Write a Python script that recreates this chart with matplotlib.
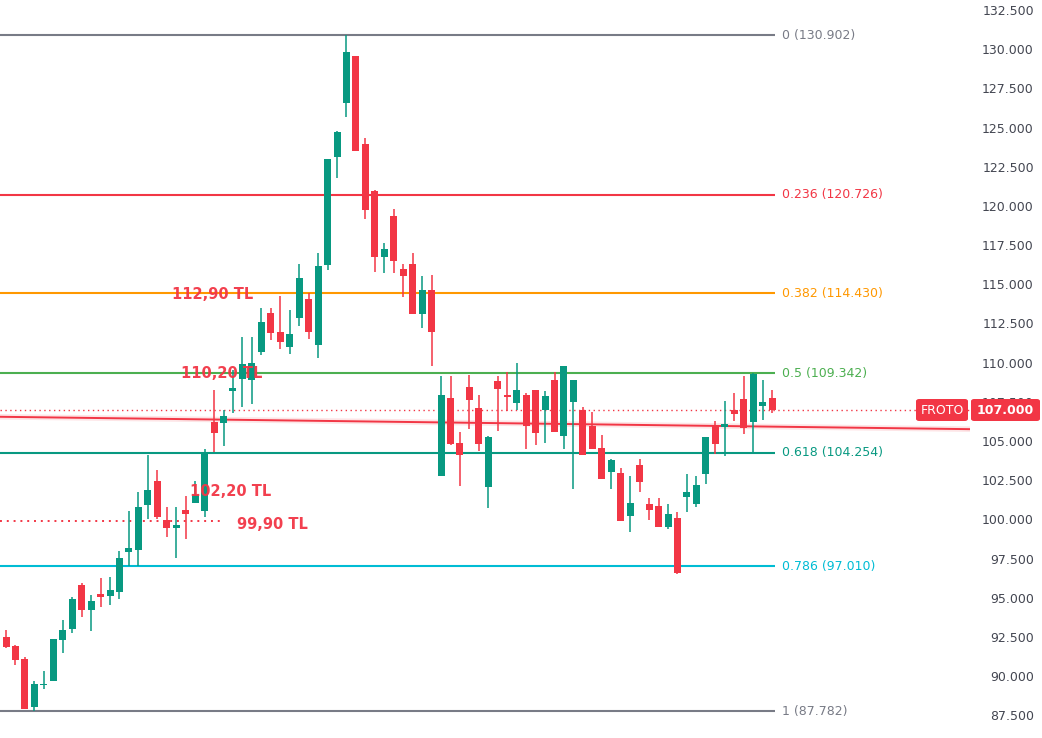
import matplotlib
matplotlib.use('Agg')
import matplotlib.pyplot as plt
from matplotlib.patches import FancyBboxPatch
import numpy as np

# ---- Candle data (daily OHLC, FROTO) ----
opens = [91.03, 92.50, 91.93, 91.10, 88.06, 89.44, 89.71, 92.31, 93.01, 95.82,
         94.22, 95.26, 95.12, 95.37, 97.94, 98.07, 100.92, 102.45, 99.97, 99.47,
         100.60, 101.07, 100.56, 106.22, 106.17, 108.21, 108.98, 108.90, 110.68, 113.17,
         111.96, 111.02, 112.85, 114.06, 111.15, 116.25, 123.14, 126.58, 129.56, 123.95,
         120.93, 116.76, 119.36, 115.98, 116.29, 113.12, 114.64, 102.79, 107.75, 104.88,
         108.45, 107.11, 102.09, 108.83, 107.94, 107.45, 107.94, 108.26, 107.00, 108.90,
         105.34, 107.51, 106.98, 105.96, 104.56, 103.05, 102.96, 100.24, 103.47, 100.98,
         100.86, 99.54, 100.09, 101.45, 101.01, 102.92, 105.96, 105.92, 106.98, 107.68,
         106.23, 107.25, 107.75]
highs = [92.95, 92.95, 92.00, 91.23, 89.69, 90.33, 92.40, 93.59, 95.05, 95.93,
         95.18, 96.27, 96.35, 97.99, 100.56, 101.75, 104.11, 103.15, 100.79, 100.79,
         101.49, 102.45, 104.47, 108.26, 106.98, 109.53, 111.64, 111.64, 113.49, 113.49,
         114.25, 113.36, 116.29, 114.44, 116.99, 123.00, 124.75, 130.902, 129.56, 124.33,
         121.01, 117.63, 119.80, 116.29, 116.99, 115.53, 115.59, 109.15, 109.15, 105.58,
         109.21, 107.94, 105.32, 109.15, 109.40, 110.00, 108.07, 108.26, 108.19, 109.40,
         109.79, 108.90, 107.17, 106.85, 105.39, 103.85, 103.28, 102.77, 103.85, 101.37,
         101.37, 100.98, 100.48, 102.90, 102.77, 105.26, 106.28, 107.55, 108.07, 109.15,
         109.34, 108.90, 108.26]
lows = [90.91, 91.82, 90.72, 87.93, 87.782, 89.20, 89.68, 91.50, 92.78, 93.80,
        92.90, 94.43, 94.54, 94.95, 97.05, 97.05, 100.03, 100.03, 98.90, 97.56,
        98.77, 101.05, 100.16, 104.30, 104.69, 106.79, 107.19, 107.36, 110.49, 111.44,
        110.89, 110.55, 112.36, 111.51, 110.32, 115.91, 121.80, 125.67, 123.52, 119.17,
        115.80, 115.74, 115.74, 114.21, 113.12, 112.23, 109.81, 102.79, 104.75, 102.15,
        105.79, 104.38, 100.75, 105.66, 106.94, 107.00, 104.51, 104.77, 104.89, 105.60,
        104.51, 101.96, 104.13, 104.51, 102.60, 101.96, 99.92, 99.22, 101.77, 99.98,
        99.54, 99.41, 96.54, 100.49, 100.81, 102.28, 104.19, 104.07, 106.30, 105.47,
        104.32, 106.36, 106.81]
closes = [92.57, 91.88, 91.05, 87.93, 89.50, 89.52, 92.37, 92.95, 94.93, 94.22,
          94.80, 95.07, 95.50, 97.54, 98.19, 100.79, 101.88, 100.16, 99.47, 99.64,
          100.37, 101.56, 104.22, 105.53, 106.60, 108.38, 109.92, 110.00, 112.60, 111.89,
          111.34, 111.83, 115.40, 111.96, 116.17, 122.99, 124.71, 129.82, 123.52, 119.76,
          116.76, 117.25, 116.50, 115.55, 113.12, 114.64, 111.98, 107.94, 104.81, 104.13,
          107.64, 104.83, 105.26, 108.34, 107.83, 108.26, 105.98, 105.53, 107.87, 105.60,
          109.79, 108.90, 104.13, 104.51, 102.60, 103.79, 99.92, 101.05, 102.41, 100.62,
          99.54, 100.35, 96.60, 101.75, 102.20, 105.26, 104.83, 106.09, 106.74, 105.85,
          109.28, 107.49, 107.00]

# ---- Fibonacci retracement levels ----
fib_values = [130.902, 120.726, 114.430, 109.342, 104.254, 97.010, 87.782]
fib_labels = ["0 (130.902)", "0.236 (120.726)", "0.382 (114.430)", "0.5 (109.342)",
              "0.618 (104.254)", "0.786 (97.010)", "1 (87.782)"]
fib_colors = ["#787b86", "#f23645", "#ff9800", "#4caf50", "#089981", "#00bcd4", "#787b86"]

# ---- Other drawings ----
trend_values = [106.55, 105.76]
last_price = 107.000
dotted_level = 99.90
annotations = ["112,90 TL", "110,20 TL", "102,20 TL", "99,90 TL"]
annotation_prices = [114.38, 109.34, 101.81, 99.71]
annotation_x = [18.55, 19.5, 20.46, 25.43]

ticks = [87.5, 90.0, 92.5, 95.0, 97.5, 100.0, 102.5, 105.0, 107.5, 110.0,
         112.5, 115.0, 117.5, 120.0, 122.5, 125.0, 127.5, 130.0, 132.5]
tick_labels = ["87.500", "90.000", "92.500", "95.000", "97.500", "100.000", "102.500",
               "105.000", "107.500", "110.000", "112.500", "115.000", "117.500",
               "120.000", "122.500", "125.000", "127.500", "130.000", "132.500"]

GREEN = "#089981"
RED = "#f23645"

W, H = 1042, 738
fig = plt.figure(figsize=(W / 100, H / 100), dpi=100)
fig.patch.set_facecolor("white")
ax = fig.add_axes([0, 0, 970 / W, 1])
ax.set_facecolor("white")

x = np.arange(len(opens))
o = np.array(opens); c = np.array(closes); hi = np.array(highs); lo = np.array(lows)
cols = [GREEN if cc >= oo else RED for oo, cc in zip(o, c)]

XMIN, XMAX = 0.3655, 102.93
ax.set_xlim(XMIN, XMAX)
ax.set_ylim(86.06, 133.135)

# Fib lines
fib_end = 82.31
for v, lab, col in zip(fib_values, fib_labels, fib_colors):
    ax.plot([XMIN, fib_end], [v, v], color=col, lw=1.5, zorder=2, solid_capstyle='butt')
    ax.text(83.05, v, lab, color=col, fontsize=9, va='center', ha='left', zorder=5)

# trend line with glow
ax.plot([XMIN, XMAX], trend_values, color=RED, lw=4, alpha=0.13, zorder=2,
        solid_capstyle='butt')
ax.plot([XMIN, XMAX], trend_values, color=RED, lw=1.4, zorder=3, solid_capstyle='butt')

# last price dotted line
ax.plot([XMIN, XMAX], [last_price, last_price], color=RED, lw=1.0,
        linestyle=(0, (1, 2.5)), zorder=2)
# 99.90 dotted line
ax.plot([XMIN, 23.84], [dotted_level, dotted_level], color=RED, lw=1.4,
        linestyle=(0, (1, 2.5)), zorder=2)

# candles
ax.vlines(x, lo, hi, colors=cols, lw=1.1, zorder=4)
body_h = np.maximum(np.abs(c - o), 0.08)
ax.bar(x, body_h, bottom=np.minimum(o, c), width=0.74, color=cols, zorder=4,
       linewidth=0)

# annotations
for t, p, xx in zip(annotations, annotation_prices, annotation_x):
    ax.text(xx, p, t, color=RED, fontsize=10.5, fontweight='bold', va='center',
            ha='left', zorder=6, alpha=0.95)

# axes styling
for s in ax.spines.values():
    s.set_visible(False)
ax.set_xticks([])
ax.yaxis.tick_right()
ax.set_yticks(ticks)
ax.set_yticklabels(tick_labels)
ax.tick_params(axis='y', length=0, pad=46, labelsize=9, colors='#434651')
for lbl in ax.get_yticklabels():
    lbl.set_ha('right')

# price label box on the scale
def fig_box(x0, x1, y0, y1, color):
    p = FancyBboxPatch((x0 / W, 1 - y1 / H), (x1 - x0) / W, (y1 - y0) / H,
                       boxstyle="round,pad=0,rounding_size=0.003",
                       transform=fig.transFigure, fc=color, ec='none', zorder=10)
    fig.patches.append(p)

fig_box(916, 968, 399, 421, RED)
fig_box(971, 1040, 399, 421, RED)
fig.text(942 / W, 1 - 410 / H, "FROTO", color='white', fontsize=9, ha='center',
         va='center', zorder=11)
fig.text(1005.5 / W, 1 - 410 / H, "107.000", color='white', fontsize=9,
         fontweight='bold', ha='center', va='center', zorder=11)

fig.savefig("out.png", dpi=100, facecolor='white')
